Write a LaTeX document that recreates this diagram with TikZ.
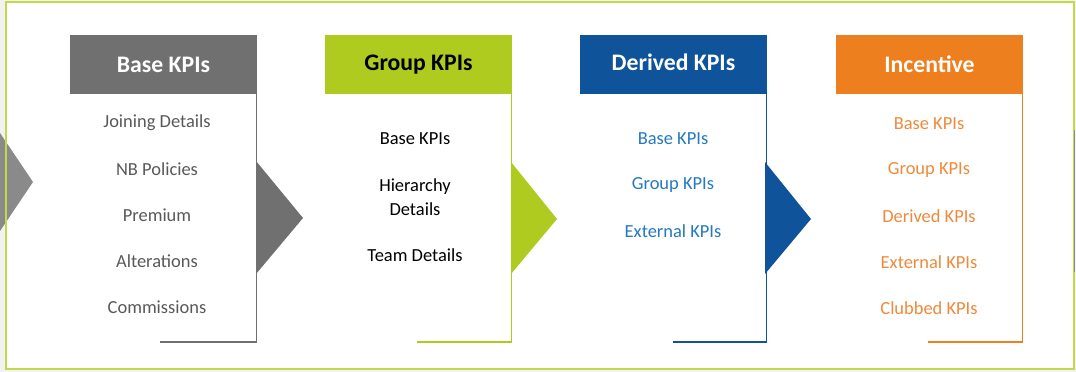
\documentclass[tikz,border=0pt]{standalone}
\usepackage{fontspec}
\setmainfont{Carlito}
\usepackage{tikz}

\definecolor{kpigrey}{HTML}{707070}
\definecolor{leftgrey}{HTML}{8A8A8A}
\definecolor{itemgrey}{HTML}{595959}
\definecolor{kpigreen}{HTML}{AFCB1F}
\definecolor{framegreen}{HTML}{C2D94A}
\definecolor{kpiblue}{HTML}{0F539A}
\definecolor{itemblue}{HTML}{2379C2}
\definecolor{kpiorange}{HTML}{EE7F1F}
\definecolor{itemorange}{HTML}{EF8A3C}
\definecolor{pagegrey}{HTML}{F2F2F2}

\begin{document}
\begin{tikzpicture}[x=0.02cm,y=-0.02cm,
	hdr/.style={minimum width=3.74cm,minimum height=1.18cm,inner sep=0pt,text=white,font=\fontsize{13.5}{16}\selectfont\bfseries},
	item/.style={font=\fontsize{10.5}{13.6}\selectfont,align=center,inner sep=0pt},
	rim/.style={line width=0.8pt}]
	
	\useasboundingbox (0,0) rectangle (1076,372);
	\fill[pagegrey] (0,0) rectangle (1076,372);
	\fill[white] (6,2) rectangle (1074,369);
	
	% arrow coming in from the left
	\fill[leftgrey] (0,133) -- (33,182) -- (0,231) -- cycle;
	
	\draw[framegreen,line width=1.3pt] (6,2) rectangle (1074,369);
	\draw[kpigrey!80,line width=1pt] (1074.5,130) -- (1074.5,272);
	
	
	
	\node[hdr,fill=kpigrey] (base) at (163.5,64.5) {Base KPIs};
	
	\node[hdr,fill=kpigreen,text=black] (group) at (418.5,64.5) {Group KPIs};
	
	\node[hdr,fill=kpiblue] (derived) at (673.5,64.5) {\raisebox{3pt}{Derived KPIs}};
	
	\node[hdr,fill=kpiorange] (incentive) at (929.5,64.5) {Incentive};
	
	
	\coordinate (baseend) at (160,342);
	
	\coordinate (groupend) at (417,342);
	
	\coordinate (derivedend) at (673,342);
	
	\coordinate (incentiveend) at (928,342);
	
	\draw[rim,kpigrey] ([xshift=-0.4pt]base.south east) |- (baseend);
	\draw[rim,kpigreen] ([xshift=-0.4pt]group.south east) |- (groupend);
	\draw[rim,kpiblue] ([xshift=-0.4pt]derived.south east) |- (derivedend);
	\draw[rim,kpiorange] ([xshift=-0.4pt]incentive.south east) |- (incentiveend);
	
	
	\fill[kpigrey] (256,161) -- (303,218) -- (256,274) -- cycle;
	\fill[kpigreen] (511,162) -- (557,219) -- (511,274) -- cycle;
	\fill[kpiblue] (765,162) -- (811,219) -- (765,274) -- cycle;
	
	
	
	\node[item,text=itemgrey] (join) at (157,123) {Joining Details};
	
	\node[item,text=itemgrey] (nb) at (157,169) {NB Policies};
	
	\node[item,text=itemgrey] (prem) at (157,215) {Premium};
	
	\node[item,text=itemgrey] (alter) at (157,261) {Alterations};
	
	\node[item,text=itemgrey] (comm) at (157,307) {Commissions};
	
	
	\node[item] (gbase) at (415,139) {Base KPIs};
	
	\node[item] (ghier) at (415,197) {Hierarchy\\Details};
	
	\node[item] (gteam) at (415,255) {Team Details};
	
	
	\node[item,text=itemblue] (dbase) at (673,139) {Base KPIs};
	
	\node[item,text=itemblue] (dgroup) at (673,185) {Group KPIs};
	
	\node[item,text=itemblue] (dext) at (673,231) {External KPIs};
	
	
	\node[item,text=itemorange] (ibase) at (929,124) {Base KPIs};
	
	\node[item,text=itemorange] (igroup) at (929,170) {Group KPIs};
	
	\node[item,text=itemorange] (iderived) at (929,216) {Derived KPIs};
	
	\node[item,text=itemorange] (iext) at (929,262) {External KPIs};
	
	\node[item,text=itemorange] (iclub) at (929,308) {Clubbed KPIs};
	
	
\end{tikzpicture}
\end{document}
